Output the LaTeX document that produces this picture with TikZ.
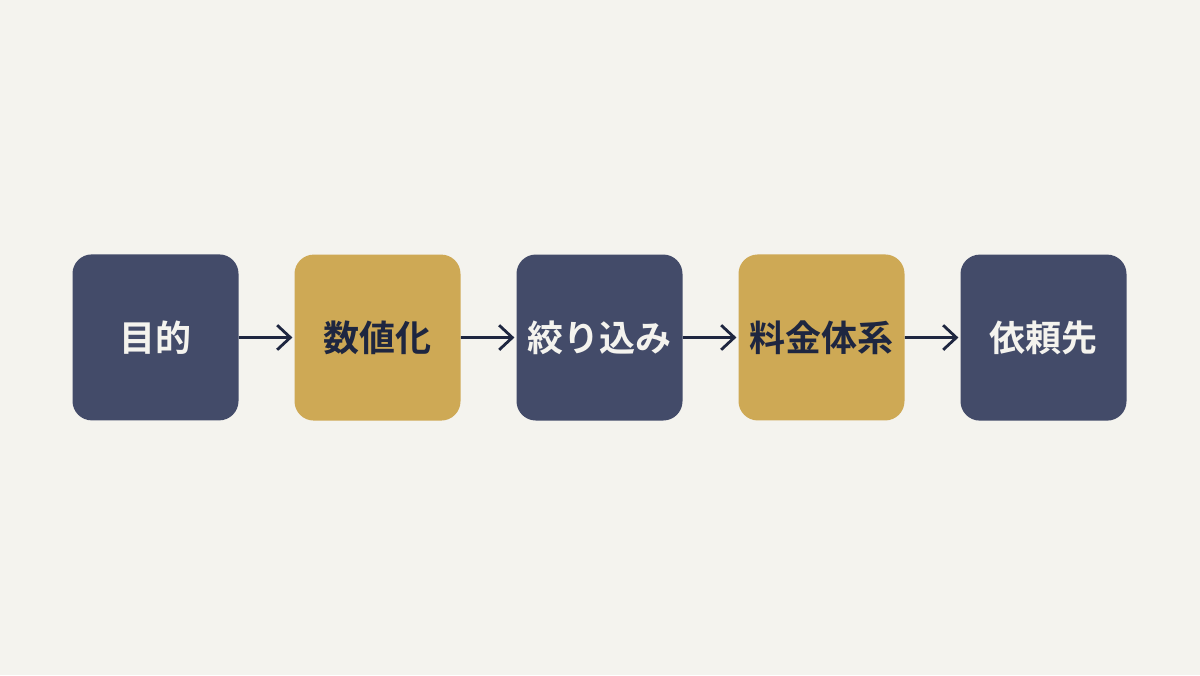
\documentclass[tikz,border=0pt]{standalone}
\usepackage{fontspec}
\newfontfamily\jpfont{Noto Sans CJK JP}[BoldFont=* Bold]
\usetikzlibrary{arrows.meta,matrix}
\definecolor{paper}{HTML}{F4F3EE}
\definecolor{navy}{HTML}{434B69}
\definecolor{gold}{HTML}{CEA955}
\definecolor{ink}{HTML}{1E2640}

\begin{document}
\begin{tikzpicture}[>={Straight Barb[length=7.5pt,width=14pt,line width=1.6pt]},
    flow/.style={->,line width=1.6pt,draw=ink,shorten >=1pt},
    darkbox/.style={fill=navy,text=paper},
    goldbox/.style={fill=gold,text=ink}]
  \fill[paper] (0,0) rectangle (24,13.5);
  \useasboundingbox (0,0) rectangle (24,13.5);
     \matrix[matrix of nodes,
             nodes={rectangle,rounded corners=11pt,minimum size=3.32cm,inner sep=0pt,
                    font=\jpfont\bfseries\fontsize{20.5}{24}\selectfont},
             column sep={4.44cm,between origins}] at (11.99,6.75)
      { |[darkbox](aim)|目的 & |[goldbox](num)|数値化 & |[darkbox](nar)|絞り込み
        & |[goldbox](fee)|料金体系 & |[darkbox](req)|依頼先 \\
      };
      \draw[flow] (aim) -- (num) ; \draw[flow] (num) -- (nar) ;
      \draw[flow] (nar) -- (fee) ; \draw[flow] (fee) -- (req) ;
    \end{tikzpicture}
\end{document}
